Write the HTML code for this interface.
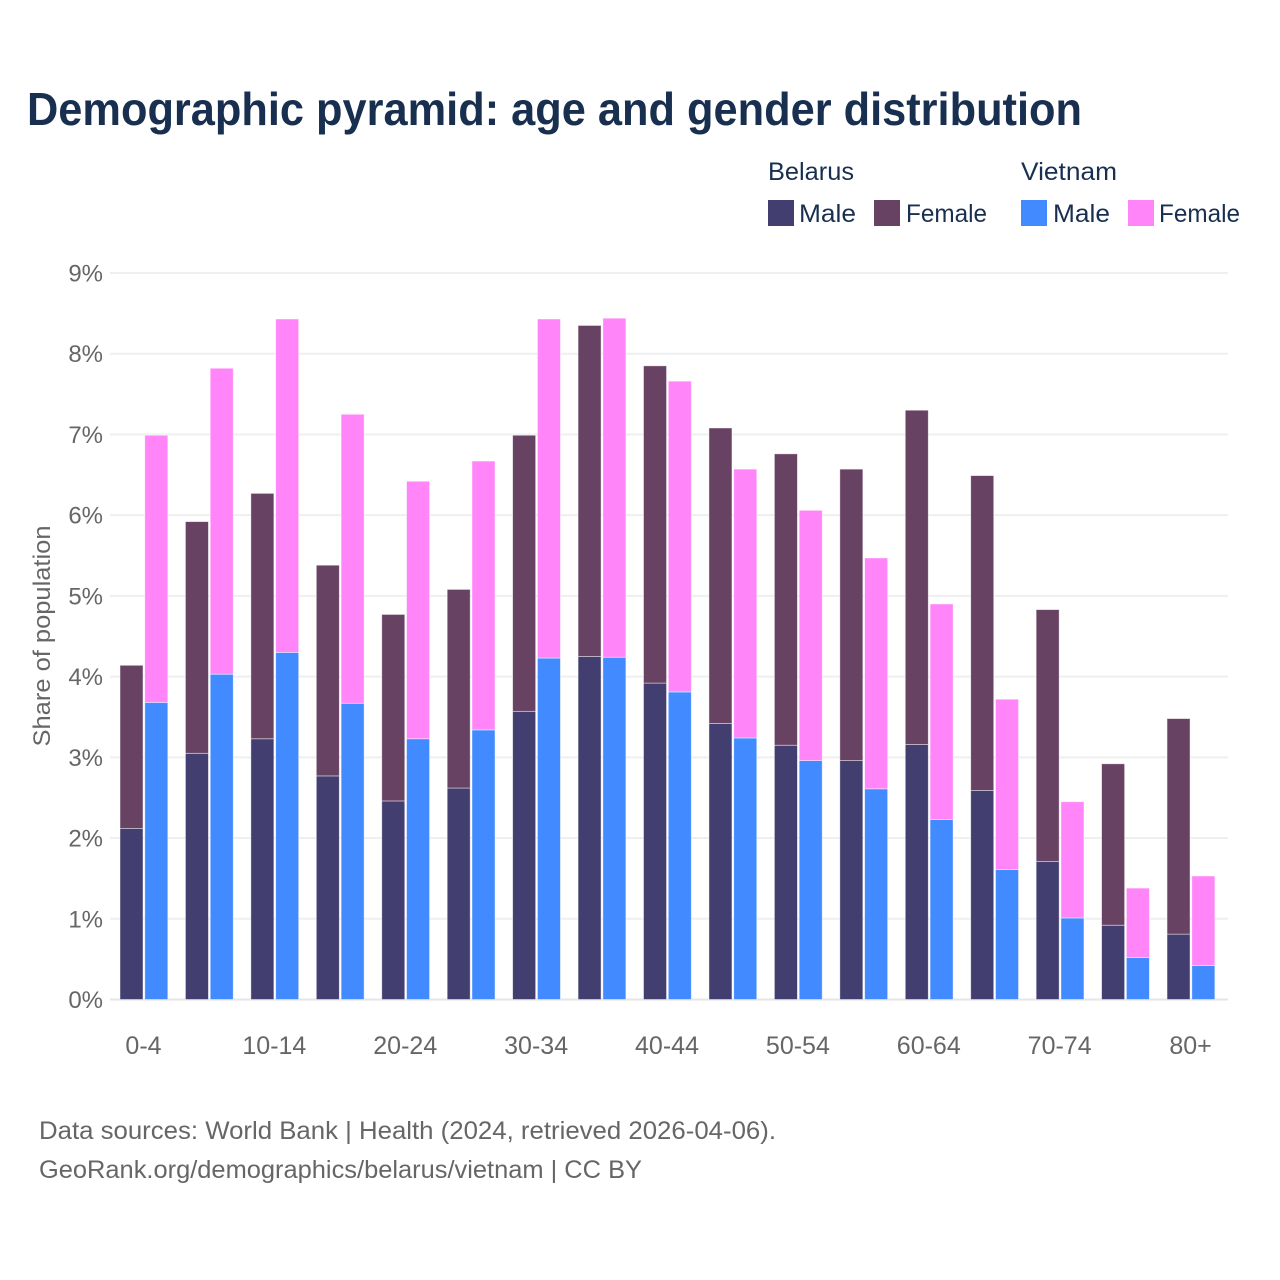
<!DOCTYPE html>
<html lang="en">
<head>
<meta charset="utf-8">
<title>Demographic pyramid: age and gender distribution</title>
<style>
html,body{margin:0;padding:0;background:#fff;}
svg{display:block;font-family:"Liberation Sans",Arial,sans-serif;}
</style>
</head>
<body>
<svg id="chart" xmlns="http://www.w3.org/2000/svg" width="1280" height="1280" viewBox="0 0 1280 1280">
  <rect x="0" y="0" width="1280" height="1280" fill="#ffffff"/>
  <text x="27" y="125" font-size="46" font-weight="700" fill="#182f50" textLength="1055" lengthAdjust="spacingAndGlyphs">Demographic pyramid: age and gender distribution</text>

  <g font-size="25" fill="#182f50">
    <text x="768" y="180" textLength="86" lengthAdjust="spacingAndGlyphs">Belarus</text>
    <text x="1021" y="180" textLength="96" lengthAdjust="spacingAndGlyphs">Vietnam</text>
    <rect x="768" y="200" width="26" height="26" fill="#423f70"/>
    <text x="799" y="222" textLength="57" lengthAdjust="spacingAndGlyphs">Male</text>
    <rect x="874" y="200" width="26" height="26" fill="#684263"/>
    <text x="906" y="222" textLength="81" lengthAdjust="spacingAndGlyphs">Female</text>
    <rect x="1021" y="200" width="26" height="26" fill="#418aff"/>
    <text x="1053" y="222" textLength="57" lengthAdjust="spacingAndGlyphs">Male</text>
    <rect x="1128" y="200" width="26" height="26" fill="#ff85f9"/>
    <text x="1159" y="222" textLength="81" lengthAdjust="spacingAndGlyphs">Female</text>
  </g>

  <g id="grid"></g>
  <g id="yticks"></g>
  <g id="bars"></g>
  <g id="xticks"></g>

  <text transform="translate(50,636) rotate(-90)" text-anchor="middle" font-size="24" fill="#666666" textLength="221" lengthAdjust="spacingAndGlyphs">Share of population</text>

  <text x="39" y="1139" font-size="25" fill="#666666" textLength="737" lengthAdjust="spacingAndGlyphs">Data sources: World Bank | Health (2024, retrieved 2026-04-06).</text>
  <text x="39" y="1178" font-size="25" fill="#666666" textLength="603" lengthAdjust="spacingAndGlyphs">GeoRank.org/demographics/belarus/vietnam | CC BY</text>
</svg>
<script>
const categories = ["0-4","5-9","10-14","15-19","20-24","25-29","30-34","35-39","40-44","45-49","50-54","55-59","60-64","65-69","70-74","75-79","80+"];
const xTickLabels = ["0-4","","10-14","","20-24","","30-34","","40-44","","50-54","","60-64","","70-74","","80+"];
const yTicks = [0,1,2,3,4,5,6,7,8,9];
const belarusMale = [2.12,3.05,3.23,2.77,2.46,2.62,3.57,4.25,3.92,3.42,3.15,2.96,3.16,2.59,1.71,0.92,0.81];
const belarusFemale = [2.02,2.87,3.04,2.61,2.31,2.46,3.42,4.10,3.93,3.66,3.61,3.61,4.14,3.90,3.12,2.00,2.67];
const vietnamMale = [3.68,4.03,4.30,3.67,3.23,3.34,4.23,4.24,3.81,3.24,2.96,2.61,2.23,1.61,1.01,0.52,0.42];
const vietnamFemale = [3.31,3.79,4.13,3.58,3.19,3.33,4.20,4.20,3.85,3.33,3.10,2.86,2.67,2.11,1.44,0.86,1.11];

const NS = "http://www.w3.org/2000/svg";
const plotLeft = 110, plotRight = 1228, firstCenter = 144, step = 65.44;
const yZero = 999.5, yNine = 273, yMax = 9;
const barWidth = 23, barGap = 2;
const yScale = v => yZero - (v / yMax) * (yZero - yNine);
const xCenter = i => firstCenter + i * step;

function mk(tag, parent, attrs) {
  const el = document.createElementNS(NS, tag);
  for (const k in attrs) el.setAttribute(k, attrs[k]);
  parent.appendChild(el);
  return el;
}

const gridG = document.getElementById("grid");
const yG = document.getElementById("yticks");
yTicks.forEach(t => {
  const line = mk("line", gridG, {x1: plotLeft, x2: plotRight, y1: yScale(t), y2: yScale(t), stroke: t === 0 ? "#e6e6e6" : "#efefef", "stroke-width": 2});
  
  
  const lab = mk("text", yG, {x: 103, y: yScale(t) + 8.5, "text-anchor": "end", "font-size": 24, fill: "#666666"});
  
  
  lab.textContent = t + "%";
});

const barsG = document.getElementById("bars");
function drawBar(i, offset, value, base, color, name) {
  const top = yScale(base + value), bottom = yScale(base);
  const r = mk("rect", barsG, {
    x: xCenter(i) + offset, y: top, width: barWidth, height: bottom - top,
    fill: color, stroke: "#ffffff", "stroke-opacity": 0.55, "stroke-width": 0.8
  });
  
  
}
categories.forEach((c, i) => {
  const leftOff = -barWidth - barGap / 2;
  const rightOff = barGap / 2 - 0.2;
  drawBar(i, leftOff, belarusMale[i], 0, "#423f70", "bar-belarus-male");
  drawBar(i, leftOff, belarusFemale[i], belarusMale[i], "#684263", "bar-belarus-female");
  drawBar(i, rightOff, vietnamMale[i], 0, "#418aff", "bar-vietnam-male");
  drawBar(i, rightOff, vietnamFemale[i], vietnamMale[i], "#ff85f9", "bar-vietnam-female");
});

const xG = document.getElementById("xticks");
xTickLabels.forEach((t, i) => {
  if (!t) return;
  const lab = mk("text", xG, {x: xCenter(i) - 0.5, y: 1054, "text-anchor": "middle", "font-size": 25, fill: "#666666"});
  
  
  lab.textContent = t;
});
</script>
</body>
</html>
